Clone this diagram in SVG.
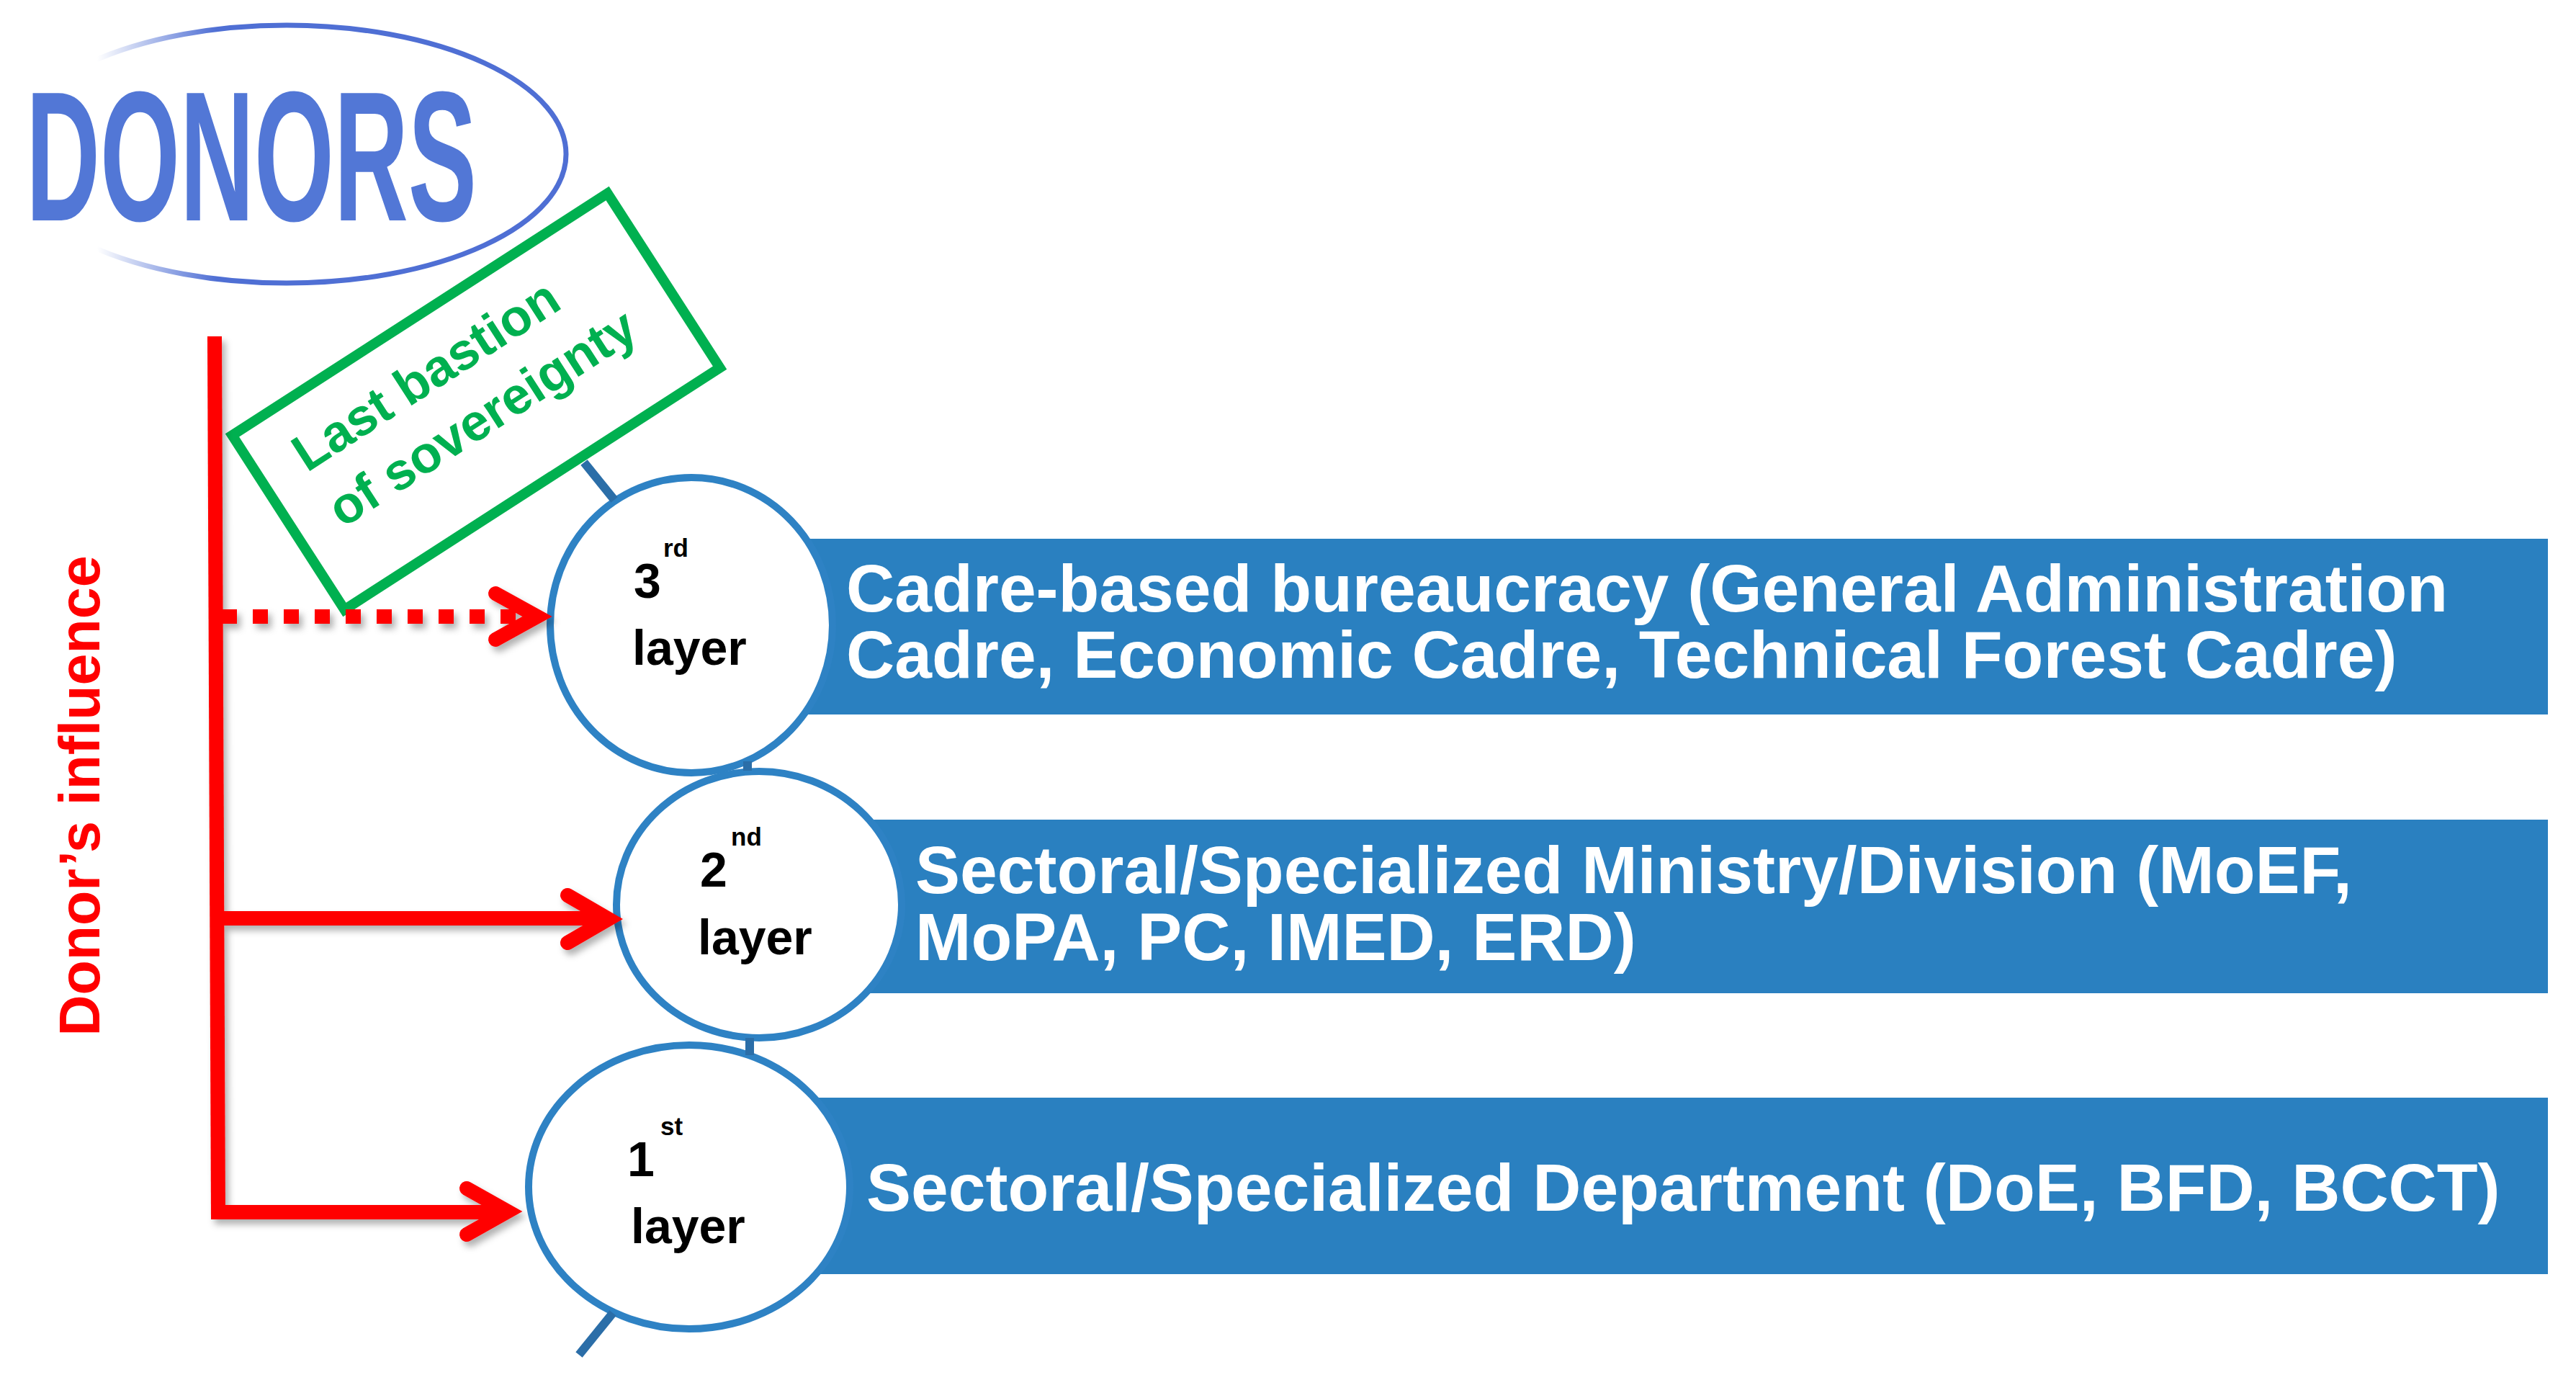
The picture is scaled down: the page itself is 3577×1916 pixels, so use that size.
<svg xmlns="http://www.w3.org/2000/svg" width="3577" height="1916" viewBox="0 0 3577 1916">
<defs>
<style>
.bar{fill:#2A80C0}
.bartxt{font-family:"Liberation Sans",Arial,sans-serif;font-weight:bold;font-size:93px;fill:#ffffff}
.circ{fill:#ffffff;stroke:#2E82C4;stroke-width:10}
.lbl{font-family:"Liberation Sans",Arial,sans-serif;font-weight:bold;font-size:68px;fill:#000000}
.sup{font-size:35px}
.stem{stroke:#2B6EA8;stroke-width:12;fill:none}
.red{stroke:#FF0000;fill:none}
.arrow{stroke:#FF0000;stroke-width:20;fill:none;stroke-linecap:round;stroke-linejoin:miter;stroke-miterlimit:6}
</style>
<filter id="sh" x="-30%" y="-30%" width="160%" height="160%">
<feDropShadow dx="5" dy="7" stdDeviation="5" flood-color="#000000" flood-opacity="0.3"/>
</filter>
<linearGradient id="fade" gradientUnits="userSpaceOnUse" x1="135" y1="0" x2="300" y2="0">
<stop offset="0" stop-color="#4F6FD4" stop-opacity="0"/>
<stop offset="1" stop-color="#4F6FD4" stop-opacity="1"/>
</linearGradient>
</defs>
<rect width="3577" height="1916" fill="#ffffff"/>

<g id="donors">
<ellipse cx="398" cy="214" rx="388" ry="179" fill="none" stroke="url(#fade)" stroke-width="7"/>
<text x="36" y="306" font-family="'Liberation Sans',Arial,sans-serif" font-weight="bold" font-size="257" fill="#5277D6" textLength="626" lengthAdjust="spacingAndGlyphs">DONORS</text>
</g>

<g id="donors-influence">
<text transform="translate(138,1105) rotate(-90)" text-anchor="middle" font-family="'Liberation Sans',Arial,sans-serif" font-weight="bold" font-size="79" fill="#FF0000">Donor’s influence</text>
</g>

<g id="last-bastion">
<g transform="translate(661,557.5) rotate(-32.8)">
<rect x="-310" y="-144" width="620" height="288" fill="#ffffff" stroke="#00B050" stroke-width="14"/>
<text font-family="'Liberation Sans',Arial,sans-serif" font-weight="bold" font-size="72" fill="#00B050">
<tspan x="-251" y="-44">Last bastion</tspan>
<tspan x="-251" y="48">of sovereignty</tspan>
</text>
</g>
</g>

<g id="layer3">
<rect class="bar" x="1100" y="748" width="2438" height="244"/>
<ellipse class="circ" cx="960" cy="868" rx="196" ry="205"/>
<text class="lbl" x="880" y="830">3</text>
<text class="lbl sup" x="921" y="773">rd</text>
<text class="lbl" x="878" y="923">layer</text>
<text class="bartxt"><tspan x="1175" y="849">Cadre-based bureaucracy (General Administration</tspan><tspan x="1175" y="941">Cadre, Economic Cadre, Technical Forest Cadre)</tspan></text>
</g>

<g id="layer2">
<rect class="bar" x="1150" y="1138" width="2388" height="241"/>
<ellipse class="circ" cx="1054" cy="1256" rx="198" ry="185"/>
<text class="lbl" x="972" y="1231">2</text>
<text class="lbl sup" x="1015" y="1174">nd</text>
<text class="lbl" x="969" y="1325">layer</text>
<text class="bartxt"><tspan x="1271" y="1240">Sectoral/Specialized Ministry/Division (MoEF,</tspan><tspan x="1271" y="1333">MoPA, PC, IMED, ERD)</tspan></text>
</g>

<g id="layer1">
<rect class="bar" x="1050" y="1524" width="2488" height="245"/>
<ellipse class="circ" cx="957" cy="1648" rx="223" ry="197"/>
<text class="lbl" x="871" y="1633">1</text>
<text class="lbl sup" x="917" y="1576">st</text>
<text class="lbl" x="876" y="1726">layer</text>
<text class="bartxt" x="1203" y="1681">Sectoral/Specialized Department (DoE, BFD, BCCT)</text>
</g>

<g id="connectors">
<line class="stem" x1="811" y1="642" x2="853" y2="694"/>
<line class="stem" x1="1038" y1="1057" x2="1038" y2="1070"/>
<line class="stem" x1="1041" y1="1441" x2="1041" y2="1465"/>
<line class="stem" x1="851" y1="1823" x2="804" y2="1881"/>
<g filter="url(#sh)">
<line class="red" x1="298" y1="467" x2="303" y2="1693" stroke-width="20"/>
<line class="red" x1="308" y1="856" x2="735" y2="856" stroke-width="20" stroke-dasharray="21 22"/>
<polyline class="arrow" points="688,824 746,856 688,888"/>
<line class="red" x1="300" y1="1275" x2="845" y2="1275" stroke-width="20"/>
<polyline class="arrow" points="788,1243 845,1276 788,1309"/>
<line class="red" x1="302" y1="1683" x2="705" y2="1683" stroke-width="20"/>
<polyline class="arrow" points="648,1650 705,1682 648,1714"/>
</g>
</g>
</svg>
